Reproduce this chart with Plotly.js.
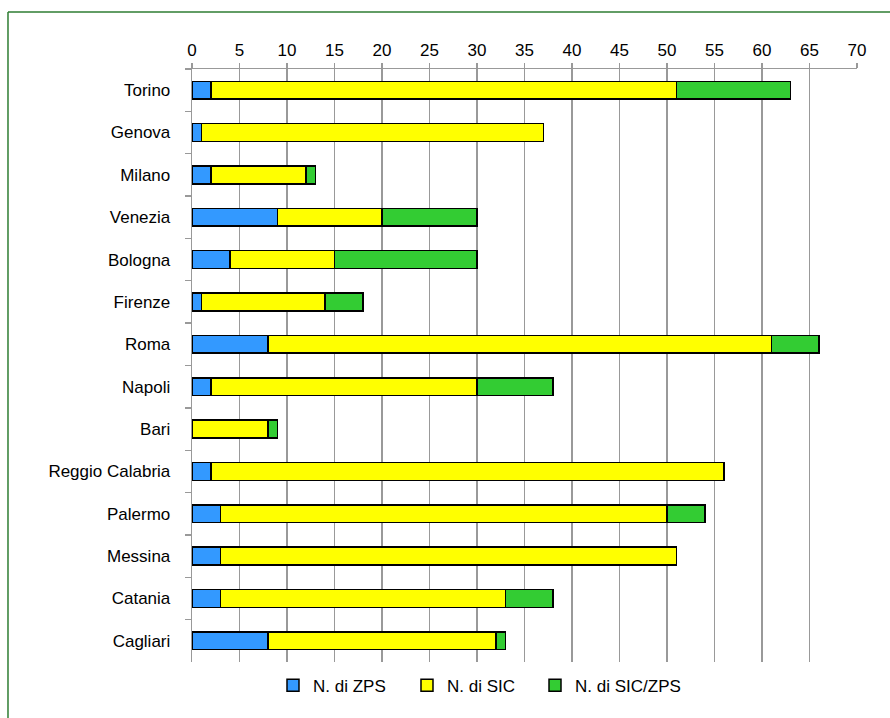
<!DOCTYPE html>
<html>
<head>
<meta charset="utf-8">
<script src="https://cdn.plot.ly/plotly-3.0.1.min.js"></script>
<style>
html,body{margin:0;padding:0;background:#fff;}
#chart{width:890px;height:718px;}
</style>
</head>
<body>
<div id="chart"></div>
<script>
var cities = ["Torino","Genova","Milano","Venezia","Bologna","Firenze","Roma","Napoli","Bari","Reggio Calabria","Palermo","Messina","Catania","Cagliari"];
var zps    = [2, 1, 2, 9, 4, 1, 8, 2, 0, 2, 3, 3, 3, 8];
var sic    = [49, 36, 10, 11, 11, 13, 53, 28, 8, 54, 47, 48, 30, 24];
var siczps = [12, 0, 1, 10, 15, 4, 5, 8, 1, 0, 4, 0, 5, 1];
var seriesNames = ["N. di ZPS", "N. di SIC", "N. di SIC/ZPS"];
var xTicks = [0,5,10,15,20,25,30,35,40,45,50,55,60,65,70];

var colors = ["#3399FF", "#FFFF00", "#33CC33"];
var legendIds = ["legend", "legend2", "legend3"];
var legendX = [0.1218, 0.3233, 0.5158];
var vals = [zps, sic, siczps];
var traces = vals.map(function(v, i){
  return {
    type: "bar", orientation: "h",
    y: cities, x: v, name: seriesNames[i], legend: legendIds[i],
    marker: {color: colors[i], line: {color: "#000", width: 1.5}},
    hoverinfo: "x+y"
  };
});

var layout = {
  width: 890, height: 718,
  margin: {l: 192, r: 33, t: 69, b: 56},
  paper_bgcolor: "#fff", plot_bgcolor: "#fff",
  barmode: "stack", bargap: 0.58,
  font: {family: "Liberation Sans, Arial, sans-serif", size: 17, color: "#000"},
  xaxis: {
    side: "top", range: [0, 70], tickvals: xTicks, ticktext: xTicks.map(String),
    showgrid: true, gridcolor: "#999", gridwidth: 1.3,
    showline: true, linecolor: "#999", linewidth: 1.3,
    ticks: "outside", ticklen: 5, tickcolor: "#999", tickwidth: 1.3,
    zeroline: false, fixedrange: true
  },
  yaxis: {
    autorange: "reversed", type: "category",
    showgrid: false, showline: true, linecolor: "#999", linewidth: 1.3,
    ticks: "outside", ticklen: 6, tickcolor: "#999", tickwidth: 1.3,
    tickson: "boundaries", ticklabelstandoff: 17, fixedrange: true
  },
  showlegend: true,
  shapes: [
    {type: "line", xref: "paper", yref: "paper", x0: -0.2767, x1: 1.05, y0: 1.0961, y1: 1.0961, line: {color: "#2E7D32", width: 1.5}},
    {type: "line", xref: "paper", yref: "paper", x0: -0.2767, x1: -0.2767, y0: 1.0961, y1: -0.095, line: {color: "#2E7D32", width: 1.5}}
  ]
};
legendIds.forEach(function(id, i){
  layout[id] = {
    orientation: "h", x: legendX[i], xanchor: "left", y: -0.04, yanchor: "middle",
    font: {size: 17}, bgcolor: "rgba(0,0,0,0)"
  };
});

Plotly.newPlot("chart", traces, layout, {displayModeBar: false, staticPlot: true});
</script>
</body>
</html>
